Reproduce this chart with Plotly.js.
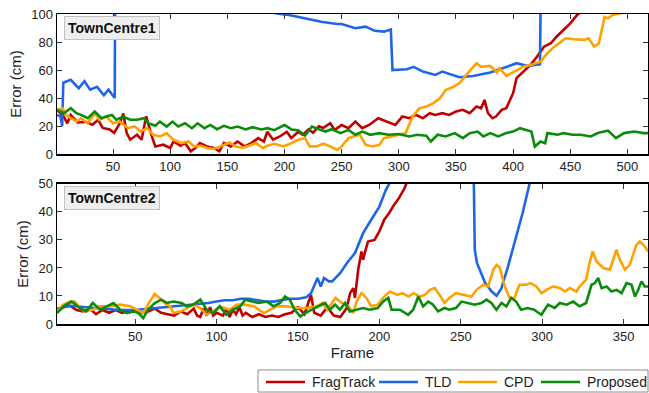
<!DOCTYPE html>
<html>
<head>
<meta charset="utf-8">
<script src="https://cdn.plot.ly/plotly-3.0.1.min.js"></script>
<style>html,body{margin:0;padding:0;background:#fff;}#chart{width:649px;height:393px;}</style>
</head>
<body>
<div id="chart"></div>
<script>
// ---------- TownCentre1 (top panel) ----------
const tc1FragFrames = [1,6,10,13,19,26,32,37,41,47,51,56,59,62,65,71,75,79,84,87,94,100,103,109,113,118,122,126,132,138,143,147,153,159,165,171,177,182,185,190,196,202,206,212,216,221,225,230,234,240,244,250,256,262,268,274,282,291,297,303,309,315,321,327,332,338,344,350,356,362,368,372,375,378,382,385,390,394,397,400,403,409,415,421,427,433,438,444,450,456,460,470];
const tc1FragErr = [31.5,28,22,28,22.6,23,21,24.5,18.7,17.6,15.2,22,29,15,10.3,13.8,10.3,27,12.6,5.5,6.7,4.4,9,6,7.9,2,4.4,7.9,5.5,4.4,2,7.9,5.5,9,5.5,7.9,11.4,9,16,10.3,12.6,16,11.4,16,13.8,17.6,15.2,19.9,18.7,22,17.3,20.8,18.5,23.2,18.5,20.8,25.6,22.5,20.8,26.8,25.6,28,25.6,29.2,28,29.2,28,30.4,31.6,29.2,33.9,32.7,38.7,29.2,25.6,26.8,31.6,32.7,38.7,43.5,54.2,58.9,63.6,69.6,76.7,79.1,83.8,88.6,93.3,99.3,102,112];

const tc1TldFrames = [1,4,5.5,6.5,13,20,25,30,36,42,46,51.5,52,120,190,196,204,222,232,246,250,262,271,279,287,293,294.5,307,313,321,332,338,353,365,380,391,403,412,423.5,424.5];
const tc1TldErr = [28,27,20,51,53,47,52,46,48,42,46,40,140,120,101,100,99.3,96.2,94.5,92.9,92.9,89.8,91,88,87.4,89,60,60.6,62.3,58.9,56.5,58.9,54.9,55.8,58.2,61.3,64.9,63,64.1,140];

const tc1CpdFrames = [1,6,9,13,18,22,28,34,38,44,50,56,63,69,74,80,85,91,97,103,110,116,121,127,132,138,144,152,157,163,169,175,181,185,191,199,205,212,218,222,228,234,240,246,250,256,262,266,271,277,283,287,294,300,306,312,318,324,330,336,341,347,353,359,365,368,372,380,386,388,394,402,409,415,424,430,436,441,446,453,462,466,471,475,480,483,487,494,500,518];
const tc1CpdErr = [31.5,32.8,28,25.6,23.3,25.6,22,29.2,24.5,26.8,22,23.2,18.5,19.7,16.1,18.5,13.8,12.6,14.9,10.2,7.9,9,5.5,6,4.4,3.7,5.5,8.3,5.5,4.4,6,7.9,4.4,6,7.4,5.5,7.4,10.2,11.4,5.5,5.5,7.4,5.5,3,5.5,11.4,13.1,13.8,6.6,5.5,6.6,11.4,12.6,13.8,15,26.8,32.7,33.9,36.3,39.9,45.8,47.7,50.6,56.5,62.4,64.9,62.4,63,58.2,61.3,55.8,59.6,62.4,63.6,66,72,76.7,79.6,82.7,82,81.5,82.7,76.7,79.1,98,96.9,99.3,100.5,103,106];

const tc1PropFrames = [1,7,13,18,22,28,34,40,44,49,53,59,65,71,77,81,87,91,97,102,107,113,119,124,130,135,141,147,153,159,166,172,180,185,191,200,206,212,218,224,230,236,241,249,256,262,268,275,283,291,300,309,316,324,328,334,341,349,356,362,369,374,380,387,394,400,406,411,416,419,424,428,430,439,444,452,459,468,474,483,490,497,506,514,518];
const tc1PropErr = [31.5,29.2,32.8,29.2,28,25.6,30.4,25.6,26.8,28,24.5,26.8,24.5,24.5,25.6,22,20.2,23.2,19.7,23.2,19.7,22,18.5,22,18.5,20.8,17.8,20.2,18.5,19.7,17.6,19.2,17.6,18.5,17.1,20.8,17.6,17.1,13.3,19.7,17.8,16.1,17.8,15,17.3,13.8,16.1,13.8,15,13.8,14.4,12.6,13.8,13.1,9,13.8,12.6,15,11.4,15,16.1,12.6,15,12.6,15,16.1,18.5,17.3,16.1,5.4,9,7.8,15,13.8,15,13.8,13.8,12.6,15,16.8,11.4,15,16.1,15,15];

// ---------- TownCentre2 (bottom panel) ----------
const tc2FragFrames = [2,6,10,14,18,22,26,30,34,38,42,46,50,54,58,62,66,70,74,78,82,86,88,90,92,94,96,98,100,104,106,108,110,112,114,116,118,122,126,130,134,138,142,146,150,154,158,160,164,168,172,176,180,182,184,185,187,189,190,191,193,197,200,203,206,209,212,215.5,217,230];
const tc2FragErr = [4.5,6,6.5,5,4.5,5.5,3.5,5,4,5,4,4.5,5,4,4.5,5.5,4,3.5,3,4.5,3.5,5.5,3,2.5,5.5,3,6,3,4,3,5.5,2.5,5,3.5,6,3,4,2.5,3.5,2.5,3,2.5,3.5,4,6,3.5,10.4,4,3,6,3,2.5,5.7,11,12.8,9.3,19.4,25.9,22.9,25.3,29.4,30,33,37.2,39.6,42.5,44.9,48.5,50.5,70];

const tc2TldFrames = [2,10,20,30,40,50,60,70,80,90,95,100,105,110,115,120,125,130,135,140,145,150,155,158,162,164,166,169,171,176,180,185,190,195,200,204,206.5,230,257.8,258.6,260,265,269,272,275,279,284,288,292.3,300];
const tc2TldErr = [5.5,6.5,6,5.5,5,5,5.5,6,6.5,7,7.5,8,8.5,8.5,9,9,8.5,8,8,8.5,9,9,9.5,11,16.4,13.4,16.4,15.2,15.2,18.2,21.7,25.3,32.4,37.2,41.9,47.9,50.5,80,60,26.5,21.7,14.6,11.6,10.1,12.8,20.5,30.6,39.6,50.2,70];

const tc2CpdFrames = [2,6,10,13,16,19,24,28,35,41,47,51,55,59,62,65,68,71.5,73.5,78,82,86,90,94,98,102,108,112.5,117,123,129,133,137,143,149,155,161.5,165,168,173,177,181,184,186,189,192,195,199,203,206.5,211,214,218,221,225,228,231,234,237,240,243,247,251.5,256.6,259.7,263.8,266.8,270,272,274,277,280,283,286,290,293,296.5,299.6,302.7,306.8,311,314,317,321,323,327,329,331,333.4,337.5,341.6,343.6,345.6,347.7,350.8,353.8,357.9,360,363,365];
const tc2CpdErr = [4.5,6.9,8,8,5.7,4.5,5.1,6.3,6.3,6.9,6.3,5.1,3.9,8,10.7,9.3,7.5,6.3,3.9,4.5,5.7,6.9,5.7,3.3,4.5,6.3,5.1,6.9,6.9,6.3,3.9,5.1,6.3,6.3,5.7,5.7,6.3,7.5,5.1,9.3,7.5,6.3,3.9,8,11,9.3,6.3,6.9,9.8,11.6,10.4,11,9.8,11,9.8,10.4,12.2,12.8,10.4,7.5,9.3,11,10.4,9.8,12.2,14,13.4,19.4,21.1,20,13.4,9.3,9.3,14,14,14.6,13.4,11,12.2,13.4,12.8,11.6,12.8,11.6,13.4,15.8,21.7,25.9,22.3,20,19.4,22.9,26.5,22.9,19.4,21.1,28.3,29.4,27.7,25.9];

const tc2PropFrames = [2,6,11,16,20,24,28.5,32.6,36.7,40.8,44.9,49,52,55,58,62,66,69.5,73.5,78.6,81.7,85.8,90,94,98,102,106,110,114.5,117.6,121.7,125.8,131,135,139,142,145,148,151.4,154.4,158.5,163.5,166.6,169.6,172.8,175.8,178.9,181.8,186,190,194,199,202.3,205.5,207.5,212.6,217.7,220.8,223.9,226.9,230,233,236,240,243,247,250.5,254.5,258.6,262.7,265.8,268.8,271.9,275,278,281,284,287,291,295,299.5,303.6,307.7,310.8,315,319,323,327,330.3,332.4,334.4,336.5,339.5,342.6,345.7,348.8,351.8,354.9,357,359,361,363,365];
const tc2PropErr = [3.9,6.3,8,5.7,4.5,7.5,5.1,6.3,7.5,5.1,3.9,4.5,3.9,2.1,5.1,7.5,8.7,7.5,8,7.5,6.3,6.9,8.7,5.1,3.9,6.3,3.3,5.1,6.3,8.7,8,7.5,8,6.3,7.5,9.8,8.7,5.1,2.7,3.9,5.1,6.5,7.5,5.1,6.9,5.1,7.5,4.5,5.1,5.7,5.1,5.7,8,9.3,5.1,5.1,3.3,5.1,9.8,6.3,8,6.9,4.5,5.7,5.1,5.7,8,7.5,6.9,7.5,8.7,7.5,5.1,7.5,6.3,9.3,8,5.1,5.7,5.1,3.3,6.9,5.7,7.5,6.9,8,6.3,7.5,14,14.6,16.4,12.8,13.4,11.6,12.2,11,14.6,14,9.8,12.2,15.2,13.4,13.4];

const seriesNames = ['FragTrack','TLD','CPD','Proposed'];
const seriesColors = ['#c00000','#1f66e5','#ffa200','#0a8c0a'];
const xTicks1 = [50,100,150,200,250,300,350,400,450,500];
const yTicks1 = [0,20,40,60,80,100];
const xTicks2 = [50,100,150,200,250,300,350];
const yTicks2 = [0,10,20,30,40,50];

const panel1Series = [[tc1FragFrames,tc1FragErr],[tc1TldFrames,tc1TldErr],[tc1CpdFrames,tc1CpdErr],[tc1PropFrames,tc1PropErr]];
const panel2Series = [[tc2FragFrames,tc2FragErr],[tc2TldFrames,tc2TldErr],[tc2CpdFrames,tc2CpdErr],[tc2PropFrames,tc2PropErr]];

const traces = [];
panel1Series.forEach((s,i)=>traces.push({x:s[0],y:s[1],type:'scatter',mode:'lines',name:seriesNames[i],
  line:{color:seriesColors[i],width:2.6},xaxis:'x',yaxis:'y',showlegend:false}));
panel2Series.forEach((s,i)=>traces.push({x:s[0],y:s[1],type:'scatter',mode:'lines',name:seriesNames[i],
  line:{color:seriesColors[i],width:2.6},xaxis:'x2',yaxis:'y2',showlegend:false}));

// ---- page geometry (pixels) ----
const W = 649, H = 393, ML = 57, MR = 1, MT = 14, MB = 69;
const plotW = W - ML - MR, plotH = H - MT - MB;
const px2x = p => (p - ML) / plotW;
const py2y = p => (H - MB - p) / plotH;

// ---- legend drawn as a boxed row (layout only) ----
const legendBox = {x0:258, x1:648, y0:370, y1:392};
const legendLineStart = [266, 379, 458, 541];
const legendLineLen = 39, legendTextGap = 6, legendRowY = 382;

const shapes = [{type:'rect',xref:'paper',yref:'paper',x0:px2x(legendBox.x0),x1:px2x(legendBox.x1),
  y0:py2y(legendBox.y1),y1:py2y(legendBox.y0),line:{color:'#8c8c8c',width:1},fillcolor:'#fff',layer:'above'}];
const legendAnns = [];
seriesNames.forEach((n,i)=>{
  shapes.push({type:'line',xref:'paper',yref:'paper',x0:px2x(legendLineStart[i]),x1:px2x(legendLineStart[i]+legendLineLen),
    y0:py2y(legendRowY),y1:py2y(legendRowY),line:{color:seriesColors[i],width:2.6},layer:'above'});
  legendAnns.push({text:n,xref:'paper',yref:'paper',x:px2x(legendLineStart[i]+legendLineLen+legendTextGap),y:py2y(legendRowY),
    xanchor:'left',yanchor:'middle',showarrow:false,borderpad:0,font:{family:'Liberation Sans, Arial, sans-serif',size:14,color:'#222'}});
});

const fontFam = 'Liberation Sans, Arial, Helvetica, sans-serif';
const axBase = {showline:true,linecolor:'#000',linewidth:1.5,mirror:'ticks',ticks:'inside',ticklen:5,tickwidth:1,
  tickcolor:'#333',showgrid:false,zeroline:false,tickfont:{family:fontFam,size:13,color:'#222'}};

const layout = {
  width:W,height:H,
  margin:{l:ML,r:MR,t:MT,b:MB,autoexpand:false},
  paper_bgcolor:'#fff',plot_bgcolor:'#fff',
  font:{family:fontFam,color:'#222'},
  showlegend:false,
  xaxis:Object.assign({},axBase,{domain:[0,1],range:[1,518],tickvals:xTicks1,anchor:'y'}),
  yaxis:Object.assign({},axBase,{domain:[0.548,1],range:[0,100],tickvals:yTicks1,anchor:'x',
    title:{text:'Error (cm)',font:{family:fontFam,size:15,color:'#222'},standoff:6}}),
  xaxis2:Object.assign({},axBase,{domain:[0,1],range:[2,365],tickvals:xTicks2,anchor:'y2',
    title:{text:'Frame',font:{family:fontFam,size:15,color:'#222'},standoff:2}}),
  yaxis2:Object.assign({},axBase,{domain:[0,0.452],range:[0,50],tickvals:yTicks2,anchor:'x2',
    title:{text:'Error (cm)',font:{family:fontFam,size:15,color:'#222'},standoff:6}}),
  shapes:shapes,
  annotations:[
    {text:'<b>TownCentre1</b>',xref:'x domain',yref:'y domain',x:0.012,y:0.985,xanchor:'left',yanchor:'top',
     showarrow:false,bgcolor:'#eeeeee',bordercolor:'#c0c0c0',borderwidth:1,borderpad:3,font:{family:fontFam,size:14,color:'#111'}},
    {text:'<b>TownCentre2</b>',xref:'x2 domain',yref:'y2 domain',x:0.012,y:0.985,xanchor:'left',yanchor:'top',
     showarrow:false,bgcolor:'#eeeeee',bordercolor:'#c0c0c0',borderwidth:1,borderpad:3,font:{family:fontFam,size:14,color:'#111'}}
  ].concat(legendAnns)
};
Plotly.newPlot('chart',traces,layout,{displayModeBar:false,staticPlot:true});
</script>
</body>
</html>
